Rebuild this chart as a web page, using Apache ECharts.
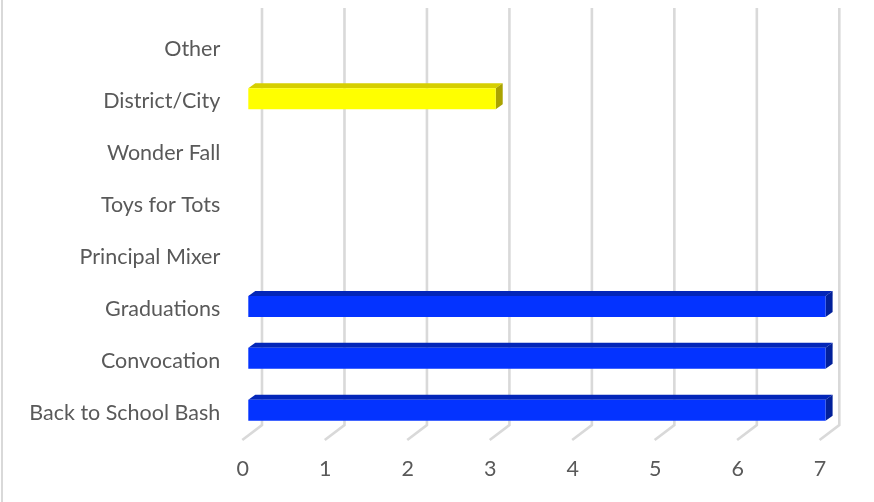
<!DOCTYPE html>
<html>
<head>
<meta charset="utf-8">
<script src="https://cdn.jsdelivr.net/npm/echarts@6/dist/echarts.min.js"></script>
<style>
  html, body { margin: 0; padding: 0; background: #fff; }
  #chart { width: 874px; height: 502px; }
</style>
</head>
<body>
<div id="chart"></div>
<script>
const categories = [
    "Back to School Bash",
    "Convocation",
    "Graduations",
    "Principal Mixer",
    "Toys for Tots",
    "Wonder Fall",
    "District/City",
    "Other",
];
const values = [7, 7, 7, 0, 0, 0, 3, 0];
const barColors = ["blue", "blue", "blue", "blue", "blue", "blue", "yellow", "blue"];
const xTicks = [0, 1, 2, 3, 4, 5, 6, 7];

const palette = {
    blue: { front: "#0433ff", top: "#0326b8", side: "#02209a" },
    yellow: { front: "#ffff00", top: "#d6cf00", side: "#aaa300" },
};
const depth = { dx: 7, dy: 5 };
const faceHeight = 21;

const chart = echarts.init(document.querySelector("#chart"));

// back wall gridlines + floor diagonals
const renderWall = (params, api) => {
    const v = api.value(0);
    const x = api.coord([v, 0])[0];
    return {
        type: "polyline",
        shape: {
            points: [
                [x + 13.7, 8],
                [x + 13.7, 425],
                [x - 6, 440],
            ],
        },
        style: { stroke: "#d9d9d9", lineWidth: 2.6, fill: null },
        silent: true,
    };
};

const renderBar = (params, api) => {
    const idx = api.value(0);
    const v = api.value(1);
    if (!v) return null;
    const p0 = api.coord([0, idx]);
    const p1 = api.coord([v, idx]);
    const c = palette[barColors[idx]];
    const x0 = p0[0];
    const x1 = p1[0];
    const yTop = p0[1] - faceHeight / 2 + 1.5;
    const yBot = yTop + faceHeight;
    const { dx, dy } = depth;
    return {
        type: "group",
        children: [
            {
                type: "polygon",
                shape: { points: [[x0, yTop], [x0 + dx, yTop - dy], [x1 + dx, yTop - dy], [x1, yTop]] },
                style: { fill: c.top },
            },
            {
                type: "polygon",
                shape: { points: [[x1, yTop], [x1 + dx, yTop - dy], [x1 + dx, yBot - dy], [x1, yBot]] },
                style: { fill: c.side },
            },
            {
                type: "rect",
                shape: { x: x0, y: yTop, width: x1 - x0, height: faceHeight },
                style: { fill: c.front },
            },
        ],
    };
};

chart.setOption({
    animation: false,
    backgroundColor: "#fff",
    textStyle: { fontFamily: "Lato" },
    graphic: [
        {
            type: "line",
            shape: { x1: 2, y1: 0, x2: 2, y2: 502 },
            style: { stroke: "#d9d9d9", lineWidth: 2 },
            silent: true,
        },
    ],
    grid: { left: 248.3, right: 48.4, top: 19.5, bottom: 67.3, containLabel: false },
    xAxis: {
        type: "value",
        min: 0,
        max: 7,
        interval: 1,
        axisLine: { show: false },
        axisTick: { show: false },
        splitLine: { show: false },
        axisLabel: {
            color: "#595959",
            fontSize: 21.5,
            fontFamily: "Lato",
            margin: 23,
            padding: [0, 11, 0, 0],
            formatter: (v) => (xTicks.includes(v) ? String(v) : ""),
        },
    },
    yAxis: {
        type: "category",
        data: categories,
        axisLine: { show: false },
        axisTick: { show: false },
        splitLine: { show: false },
        axisLabel: {
            margin: 28,
            formatter: (v) => `{a|${v}}`,
            rich: {
                a: {
                    color: "#595959",
                    fontSize: 21.5,
                    fontFamily: "Lato",
                    padding: [8, 0, 0, 0],
                },
            },
        },
    },
    series: [
        {
            type: "custom",
            name: "wall",
            renderItem: renderWall,
            data: xTicks.map((t) => [t]),
            encode: { x: 0 },
            z: 1,
        },
        {
            type: "custom",
            name: "bars",
            renderItem: renderBar,
            data: values.map((v, i) => [i, v]),
            encode: { y: 0, x: 1 },
            z: 2,
        },
    ],
});
</script>
</body>
</html>
